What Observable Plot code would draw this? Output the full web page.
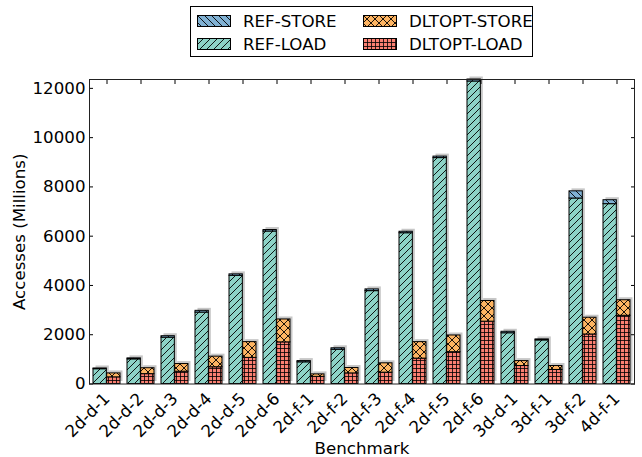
<!DOCTYPE html>
<html><head><meta charset="utf-8">
<script src="https://cdn.jsdelivr.net/npm/d3@7"></script>
<script src="https://cdn.jsdelivr.net/npm/@observablehq/plot@0.6"></script>
<style>
body{margin:0;background:#fff;font-family:"DejaVu Sans",sans-serif;}
#wrap{position:relative;width:642px;height:457px;}
#legend{position:absolute;left:190px;top:6px;width:343px;height:51px;border:1px solid #000;box-sizing:border-box;background:#fff;font-size:16.67px;color:#000;}
.item{position:absolute;height:16px;display:flex;align-items:center;white-space:nowrap;}
.item svg{margin-right:12px;display:block;}
#chart svg text{font-family:"DejaVu Sans",sans-serif;}
</style></head>
<body>
<svg width="0" height="0" style="position:absolute">
<defs>
<pattern id="pRefStore" patternUnits="userSpaceOnUse" width="7" height="7">
<rect width="7" height="7" fill="#80b1d3"/>
<path d="M0,0L7,7M-1,6L1,8M6,-1L8,1" stroke="#000" stroke-width="0.9"/>
</pattern>
<pattern id="pRefLoad" patternUnits="userSpaceOnUse" width="7" height="7">
<rect width="7" height="7" fill="#8dd3c7"/>
<path d="M0,7L7,0M-1,1L1,-1M6,8L8,6" stroke="#000" stroke-width="0.9"/>
</pattern>
<pattern id="pDltStore" patternUnits="userSpaceOnUse" width="8" height="8">
<rect width="8" height="8" fill="#fdb462"/>
<path d="M0,0L8,8M0,8L8,0" stroke="#000" stroke-width="0.9"/>
</pattern>
<pattern id="pDltLoad" patternUnits="userSpaceOnUse" width="4" height="4">
<rect width="4" height="4" fill="#fb8072"/>
<path d="M0,0.5H4M0.5,0V4" stroke="#000" stroke-width="0.8"/>
</pattern>
</defs></svg>
<div id="wrap"><div id="chart"></div><div id="legend"></div></div>
<script>
const benchmarks = ["2d-d-1","2d-d-2","2d-d-3","2d-d-4","2d-d-5","2d-d-6","2d-f-1","2d-f-2","2d-f-3","2d-f-4","2d-f-5","2d-f-6","3d-d-1","3d-f-1","3d-f-2","4d-f-1"];
const refLoad  = [600, 1000, 1880, 2900, 4390, 6190, 880, 1390, 3770, 6120, 9170, 12280, 2060, 1770, 7530, 7300];
const refStore = [30, 40, 60, 70, 60, 60, 50, 60, 70, 60, 60, 80, 60, 40, 290, 160];
const dltLoad  = [270, 400, 500, 680, 1060, 1690, 290, 430, 460, 1030, 1290, 2530, 730, 570, 2010, 2770];
const dltStore = [160, 240, 310, 430, 640, 930, 100, 220, 380, 670, 680, 840, 200, 160, 680, 630];
const yTicks = [0, 2000, 4000, 6000, 8000, 10000, 12000];
const series = [
  {name: "REF-STORE", pattern: "pRefStore"},
  {name: "DLTOPT-STORE", pattern: "pDltStore"},
  {name: "REF-LOAD", pattern: "pRefLoad"},
  {name: "DLTOPT-LOAD", pattern: "pDltLoad"}
];

const rows = benchmarks.map((b, i) => ({
  b, refLoad: refLoad[i], refStore: refStore[i], dltLoad: dltLoad[i], dltStore: dltStore[i],
  refTotal: refLoad[i] + refStore[i], dltTotal: dltLoad[i] + dltStore[i]
}));
const yMax = d3.max(rows, d => Math.max(d.refTotal, d.dltTotal));

const W = 642, H = 457, mL = 89, mR = 8, mT = 79, mB = 73.5;
const FS = 16.67;
const padIn = 0.208;
const bw = d3.scaleBand().domain(benchmarks).range([mL, W - mR]).paddingInner(padIn).paddingOuter(0).bandwidth();
const half = bw / 2;
const stroke = {stroke: "#000", strokeWidth: 1};
const shadow = {fill: "#000", fillOpacity: 0.22, dx: 2.5, dy: -2.5};

const chart = Plot.plot({
  width: W, height: H,
  marginLeft: mL, marginRight: mR, marginTop: mT, marginBottom: mB,
  style: {fontFamily: "DejaVu Sans", fontSize: FS + "px", color: "#000", background: "#fff"},
  x: {type: "band", domain: benchmarks, paddingInner: padIn, paddingOuter: 0},
  y: {domain: [0, yMax]},
  marks: [
    Plot.axisX({anchor: "bottom", tickSize: 0, tickRotate: -45, tickPadding: 12, fontSize: FS,
      label: "Benchmark", labelAnchor: "center", labelOffset: 70}),
    Plot.axisY({anchor: "left", ticks: yTicks, tickSize: 0, tickPadding: 4, fontSize: FS, tickFormat: d3.format("d"),
      label: "Accesses (Millions)", labelAnchor: "center", labelOffset: 76, labelArrow: "none"}),
    // shadows
    Plot.barY(rows, {x: "b", y1: 0, y2: "refTotal", insetRight: half, ...shadow}),
    Plot.barY(rows, {x: "b", y1: 0, y2: "dltTotal", insetLeft: half, ...shadow}),
    // REF bars
    Plot.barY(rows, {x: "b", y1: 0, y2: "refLoad", insetRight: half, fill: "url(#pRefLoad)", ...stroke}),
    Plot.barY(rows, {x: "b", y1: "refLoad", y2: "refTotal", insetRight: half, fill: "url(#pRefStore)", ...stroke}),
    // DLTOPT bars
    Plot.barY(rows, {x: "b", y1: 0, y2: "dltLoad", insetLeft: half, fill: "url(#pDltLoad)", ...stroke}),
    Plot.barY(rows, {x: "b", y1: "dltLoad", y2: "dltTotal", insetLeft: half, fill: "url(#pDltStore)", ...stroke}),
    // inward ticks
    Plot.axisX({anchor: "top", tickSize: -4, tickFormat: () => "", label: null}),
    Plot.axisY({anchor: "left", ticks: yTicks, tickSize: -4, tickFormat: () => "", label: null}),
    Plot.axisY({anchor: "right", ticks: yTicks, tickSize: -4, tickFormat: () => "", label: null}),
    Plot.frame({stroke: "#222", strokeWidth: 1})
  ]
});
document.getElementById("chart").appendChild(chart);

// legend
const legend = document.getElementById("legend");
const pos = [[6, 9], [172, 9], [6, 32], [172, 32]];
series.forEach((s, i) => {
  const div = document.createElement("div");
  div.className = "item";
  div.style.left = pos[i][0] + "px";
  div.style.top = (pos[i][1] - 3) + "px";
  div.innerHTML = `<svg width="34" height="12"><rect x="0.5" y="0.5" width="33" height="11" fill="url(#${s.pattern})" stroke="#000"/></svg><span>${s.name}</span>`;
  legend.appendChild(div);
});
</script>
</body></html>
